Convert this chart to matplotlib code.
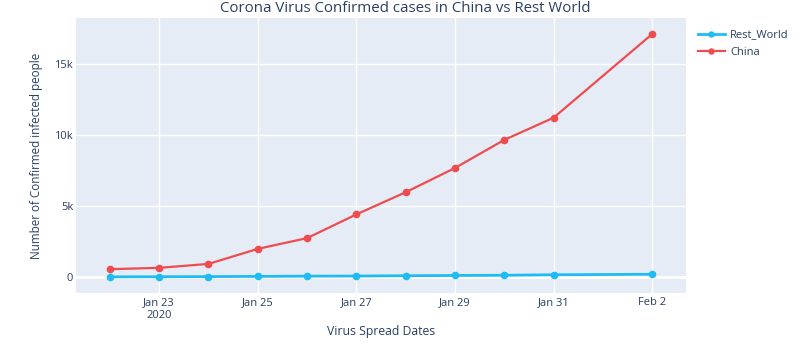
import matplotlib
matplotlib.use('Agg')
import matplotlib.pyplot as plt
import pandas as pd

# data
dates = ['2020-01-22', '2020-01-23', '2020-01-24', '2020-01-25', '2020-01-26',
         '2020-01-27', '2020-01-28', '2020-01-29', '2020-01-30', '2020-01-31',
         '2020-02-02']
china = [548, 643, 920, 1979, 2737, 4409, 5970, 7678, 9658, 11221, 17114]
rest_world = [7, 14, 25, 40, 57, 64, 87, 105, 118, 153, 190]

tick_dates = ['2020-01-23', '2020-01-25', '2020-01-27', '2020-01-29', '2020-01-31', '2020-02-02']
tick_labels = ['Jan 23\n2020', 'Jan 25', 'Jan 27', 'Jan 29', 'Jan 31', 'Feb 2']

plt.rcParams['font.family'] = ['Open Sans', 'DejaVu Sans']
txt = '#2a3f5f'

x = pd.to_datetime(dates)

fig = plt.figure(figsize=(8, 3.56), dpi=100)
ax = fig.add_axes([0.095, 0.177, 0.7625, 0.772])
ax.set_facecolor('#E5ECF6')

ax.plot(x, rest_world, color='#1EBCF5', lw=2, marker='o', ms=4.5, label='Rest_World', zorder=3)
ax.plot(x, china, color='#EF4C50', lw=1.6, marker='o', ms=4.5, label='China', zorder=3)

# axis ranges like plotly's autorange with marker padding
ax.set_xlim(pd.Timestamp('2020-01-22') - pd.Timedelta(hours=16.5),
            pd.Timestamp('2020-02-02') + pd.Timedelta(hours=16.5))
ax.set_ylim(-1130, 18240)

ax.set_xticks(pd.to_datetime(tick_dates))
ax.set_xticklabels(tick_labels, linespacing=1.25)
ax.set_yticks([0, 5000, 10000, 15000])
ax.set_yticklabels(['0', '5k', '10k', '15k'])

ax.grid(True, color='white', lw=1)
ax.axhline(0, color='white', lw=2.2, zorder=1)
ax.set_axisbelow(True)
for s in ax.spines.values():
    s.set_visible(False)
ax.tick_params(length=0, labelsize=8, labelcolor=txt)
ax.tick_params(axis='x', pad=3)
ax.tick_params(axis='y', pad=2)

ax.set_xlabel('Virus Spread Dates', fontsize=8.8, color=txt, labelpad=3)
ax.set_ylabel('Number of Confirmed infected people', fontsize=8.4, color=txt, labelpad=8)
fig.suptitle('Corona Virus Confirmed cases in China vs Rest World', x=0.506, y=0.998,
             va='top', fontsize=10.8, color=txt)

fig.legend(loc='upper left', bbox_to_anchor=(0.86, 0.945), frameon=False,
           fontsize=8, labelcolor=txt, handlelength=2.4, handletextpad=0.5,
           labelspacing=0.55, markerscale=0.8)

fig.savefig('out.png', dpi=100)
